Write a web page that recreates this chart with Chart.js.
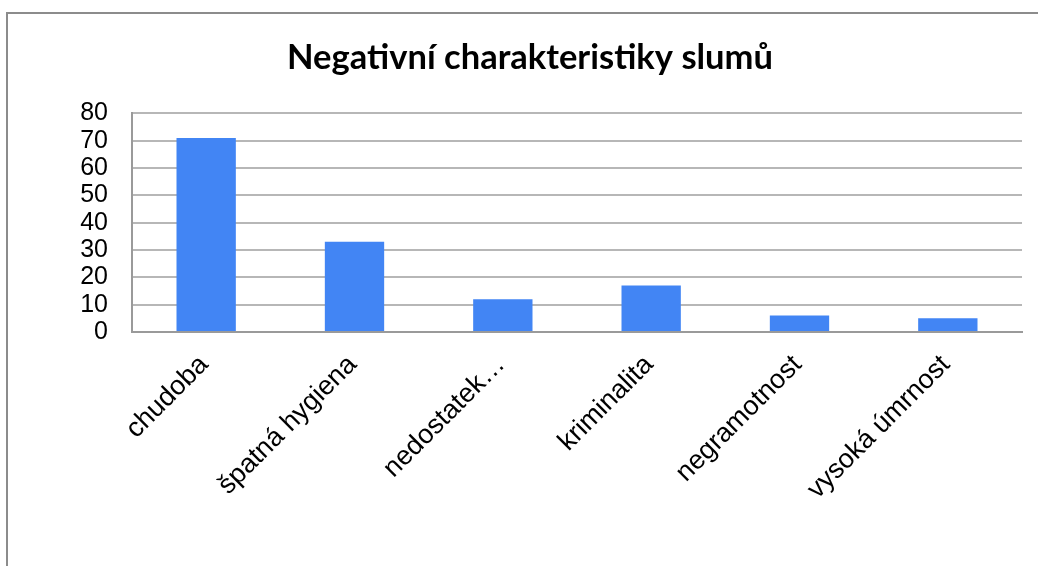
<!DOCTYPE html>
<html>
<head>
<meta charset="utf-8">
<script src="https://cdn.jsdelivr.net/npm/chart.js@4"></script>
<style>
  html, body { margin: 0; padding: 0; background: #fff; overflow: hidden; }
  #wrap { position: relative; width: 1038px; height: 566px; }
  #frame { position: absolute; left: 6px; top: 12px; width: 1100px; height: 700px; border: 2px solid #8c8c8c; }
  canvas { position: absolute; left: 0; top: 0; }
</style>
</head>
<body>
<div id="wrap">
  <div id="frame"></div>
  <canvas id="chart" width="1038" height="566"></canvas>
</div>
<script>
const categories = ['chudoba', 'špatná hygiena', 'nedostatek…', 'kriminalita', 'negramotnost', 'vysoká úmrnost'];
const values = [71, 33, 12, 17, 6, 5];
const titleText = 'Negativní charakteristiky slumů';

const barColor = '#4285f4';
const gridColor = '#b7b7b7';
const axisColor = '#9a9a9a';

new Chart(document.getElementById('chart'), {
    type: 'bar',
    data: {
        labels: categories,
        datasets: [
            {
                label: 'Hodnota',
                data: values,
                backgroundColor: barColor,
                barPercentage: 0.4,
                categoryPercentage: 1
            }
        ]
    },
    options: {
        responsive: false,
        animation: false,
        layout: {
            // left padding only recentres the title over the picture
            padding: { left: 38, right: 16, top: 0, bottom: 0 }
        },
        plugins: {
            legend: { display: false },
            tooltip: { enabled: false },
            title: {
                display: true,
                text: titleText,
                color: '#000',
                font: { family: 'Lato', size: 34.5, weight: 'bold', lineHeight: 1.2 },
                padding: { top: 37, bottom: 35 }
            }
        },
        scales: {
            x: {
                grid: { display: false, drawTicks: false },
                border: { display: true, color: axisColor, width: 2 },
                ticks: {
                    color: '#000',
                    font: { family: 'Liberation Sans', size: 27 },
                    minRotation: 45,
                    maxRotation: 45,
                    autoSkip: false,
                    labelOffset: -2,
                    padding: 17
                },
                afterFit(scale) { scale.height = 234; }
            },
            y: {
                min: 0,
                max: 80,
                grid: { color: gridColor, lineWidth: 2, drawTicks: false },
                border: { display: true, color: axisColor, width: 2 },
                ticks: {
                    stepSize: 10,
                    autoSkip: false,
                    color: '#000',
                    font: { family: 'Liberation Sans', size: 25 },
                    padding: 24
                },
                afterFit(scale) { scale.width = 94; }
            }
        }
    }
});
</script>
</body>
</html>
